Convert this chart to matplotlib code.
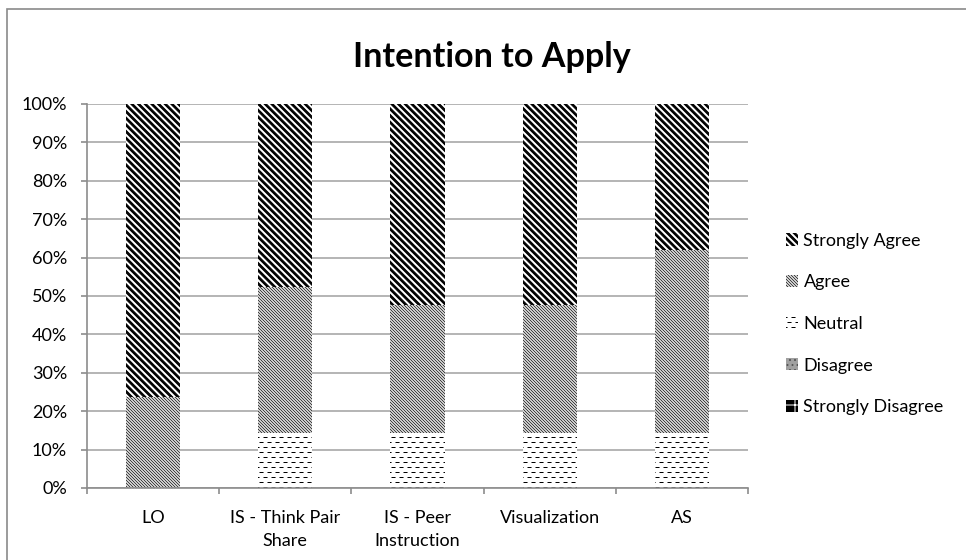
import warnings
import numpy as np
import matplotlib
matplotlib.use('Agg')
import matplotlib.pyplot as plt
import matplotlib.hatch as mhatch
from matplotlib.path import Path
from matplotlib.patches import Rectangle

warnings.filterwarnings('ignore')

# survey answers, percent of respondents per item
categories = ['LO', 'IS - Think Pair\nShare', 'IS - Peer\nInstruction', 'Visualization', 'AS']
strongly_disagree = [0, 0, 0, 0, 0]
disagree = [0, 0, 0, 0, 0]
neutral = [0, 14.3, 14.3, 14.3, 14.3]
agree = [23.8, 38.1, 33.3, 33.3, 47.6]
strongly_agree = [76.2, 47.6, 52.4, 52.4, 38.1]
y_ticks = list(range(0, 101, 10))


# Excel style "dashed rows" fill for Neutral, hatch char '='
class DashHatch(mhatch.HatchPatternBase):
    def __init__(self, hatch, density):
        self.num_rows = hatch.count('=') * density
        self.num_cols = int(self.num_rows * 0.625)
        self.num_vertices = self.num_rows * self.num_cols * 2

    def set_vertices_and_codes(self, vertices, codes):
        dy = 1.0 / self.num_rows
        dx = 1.0 / self.num_cols
        k = 0
        for i in range(self.num_rows):
            y = (i + 0.5) * dy
            shift = 0.5 * dx if i % 2 else 0.0
            for j in range(self.num_cols):
                x0 = j * dx + shift
                vertices[k] = (x0, y)
                vertices[k + 1] = (x0 + 0.38 * dx, y)
                codes[k] = Path.MOVETO
                codes[k + 1] = Path.LINETO
                k += 2


# "\" stripes, '#' -> wide filled bands (agg fills closed hatch paths),
# '~' -> thin lines, 10 per char so the period can hit whole pixels
class StripeHatch(mhatch.HatchPatternBase):
    def __init__(self, hatch, density):
        self.wide = hatch.count('#') > 0
        if self.wide:
            self.num_lines = hatch.count('#') * density
        else:
            self.num_lines = hatch.count('~') * 10
        per = 5 if self.wide else 2
        self.num_vertices = (self.num_lines + 1) * per if self.num_lines else 0

    def set_vertices_and_codes(self, vertices, codes):
        steps = np.linspace(-0.5, 0.5, self.num_lines + 1)
        if self.wide:
            d = 0.02
            for i, s in enumerate(steps):
                k = i * 5
                vertices[k:k + 5] = [(s, 1 + s), (1 + s, s), (1 + s + d, s), (s + d, 1 + s), (s, 1 + s)]
                codes[k] = Path.MOVETO
                codes[k + 1:k + 4] = Path.LINETO
                codes[k + 4] = Path.CLOSEPOLY
        else:
            vertices[0::2] = np.column_stack([steps, 1 + steps])
            vertices[1::2] = np.column_stack([1 + steps, steps])
            codes[0::2] = Path.MOVETO
            codes[1::2] = Path.LINETO


mhatch._hatch_types.append(DashHatch)
mhatch._hatch_types.append(StripeHatch)

plt.rcParams['font.family'] = ['Lato', 'DejaVu Sans']
plt.rcParams['hatch.linewidth'] = 0.6

W, H, DPI = 966, 560, 120
fig = plt.figure(figsize=(W / DPI, H / DPI), dpi=DPI)
fig.patch.set_facecolor('white')

# chart border (goes off the right / bottom edge)
fig.patches.append(Rectangle((7 / W, -0.2), 1.5, 1 - 9 / H + 0.2, transform=fig.transFigure,
                             fill=False, edgecolor='#8a8a8a', lw=1.0))

ax = fig.add_axes([87 / W, 1 - 488 / H, (748 - 87) / W, (488 - 104) / H])

x = np.arange(len(categories))
width = 0.41

series = [
    ('Strongly Disagree', strongly_disagree, dict(facecolor='black', edgecolor='white', hatch='++')),
    ('Disagree', disagree, dict(facecolor='#a0a0a0', edgecolor='#555555', hatch='....')),
    ('Neutral', neutral, dict(facecolor='white', edgecolor='black', hatch='=' * 4)),
    ('Agree', agree, dict(facecolor='white', edgecolor='#333333', hatch='~' * 8)),
    ('Strongly Agree', strongly_agree, dict(facecolor='white', edgecolor='black', hatch='#' * 6)),
]

bottom = np.zeros(len(categories))
handles = []
for name, vals, style in series:
    bars = ax.bar(x, vals, width, bottom=bottom, linewidth=0, label=name, zorder=2, **style)
    handles.append(bars)
    bottom += np.array(vals)

ax.set_xlim(-0.5, len(categories) - 0.5)
ax.set_ylim(0, 100)
ax.set_yticks(y_ticks)
ax.set_yticklabels([f'{t}%' for t in y_ticks])
ax.set_xticks(x)
ax.set_xticklabels(categories, linespacing=1.55)
ax.set_xticks(np.arange(len(categories) + 1) - 0.5, minor=True)

ax.yaxis.grid(True, color='#a8a8a8', lw=1.0, zorder=0)
ax.set_axisbelow(True)
for s in ['top', 'right']:
    ax.spines[s].set_visible(False)
for s in ['left', 'bottom']:
    ax.spines[s].set_color('#8c8c8c')
    ax.spines[s].set_linewidth(1.0)

ax.tick_params(axis='y', length=3.6, width=1.0, color='#8c8c8c', pad=8.4, labelsize=10.8)
ax.tick_params(axis='x', which='major', length=0, pad=13.4, labelsize=10.8)
ax.tick_params(axis='x', which='minor', length=3.6, width=1.0, color='#8c8c8c')

fig.text(492 / W, 1 - 57 / H, 'Intention to Apply', ha='center', va='center',
         fontsize=20.5, fontweight='bold')

leg = fig.legend(handles[::-1], [s[0] for s in series][::-1], loc='center left',
                 bbox_to_anchor=(786 / W, 1 - 324 / H), frameon=False, fontsize=10.8,
                 handlelength=0.67, handleheight=0.67, handletextpad=0.3,
                 labelspacing=1.42, borderpad=0, borderaxespad=0)

fig.savefig('out.png', dpi=DPI)
